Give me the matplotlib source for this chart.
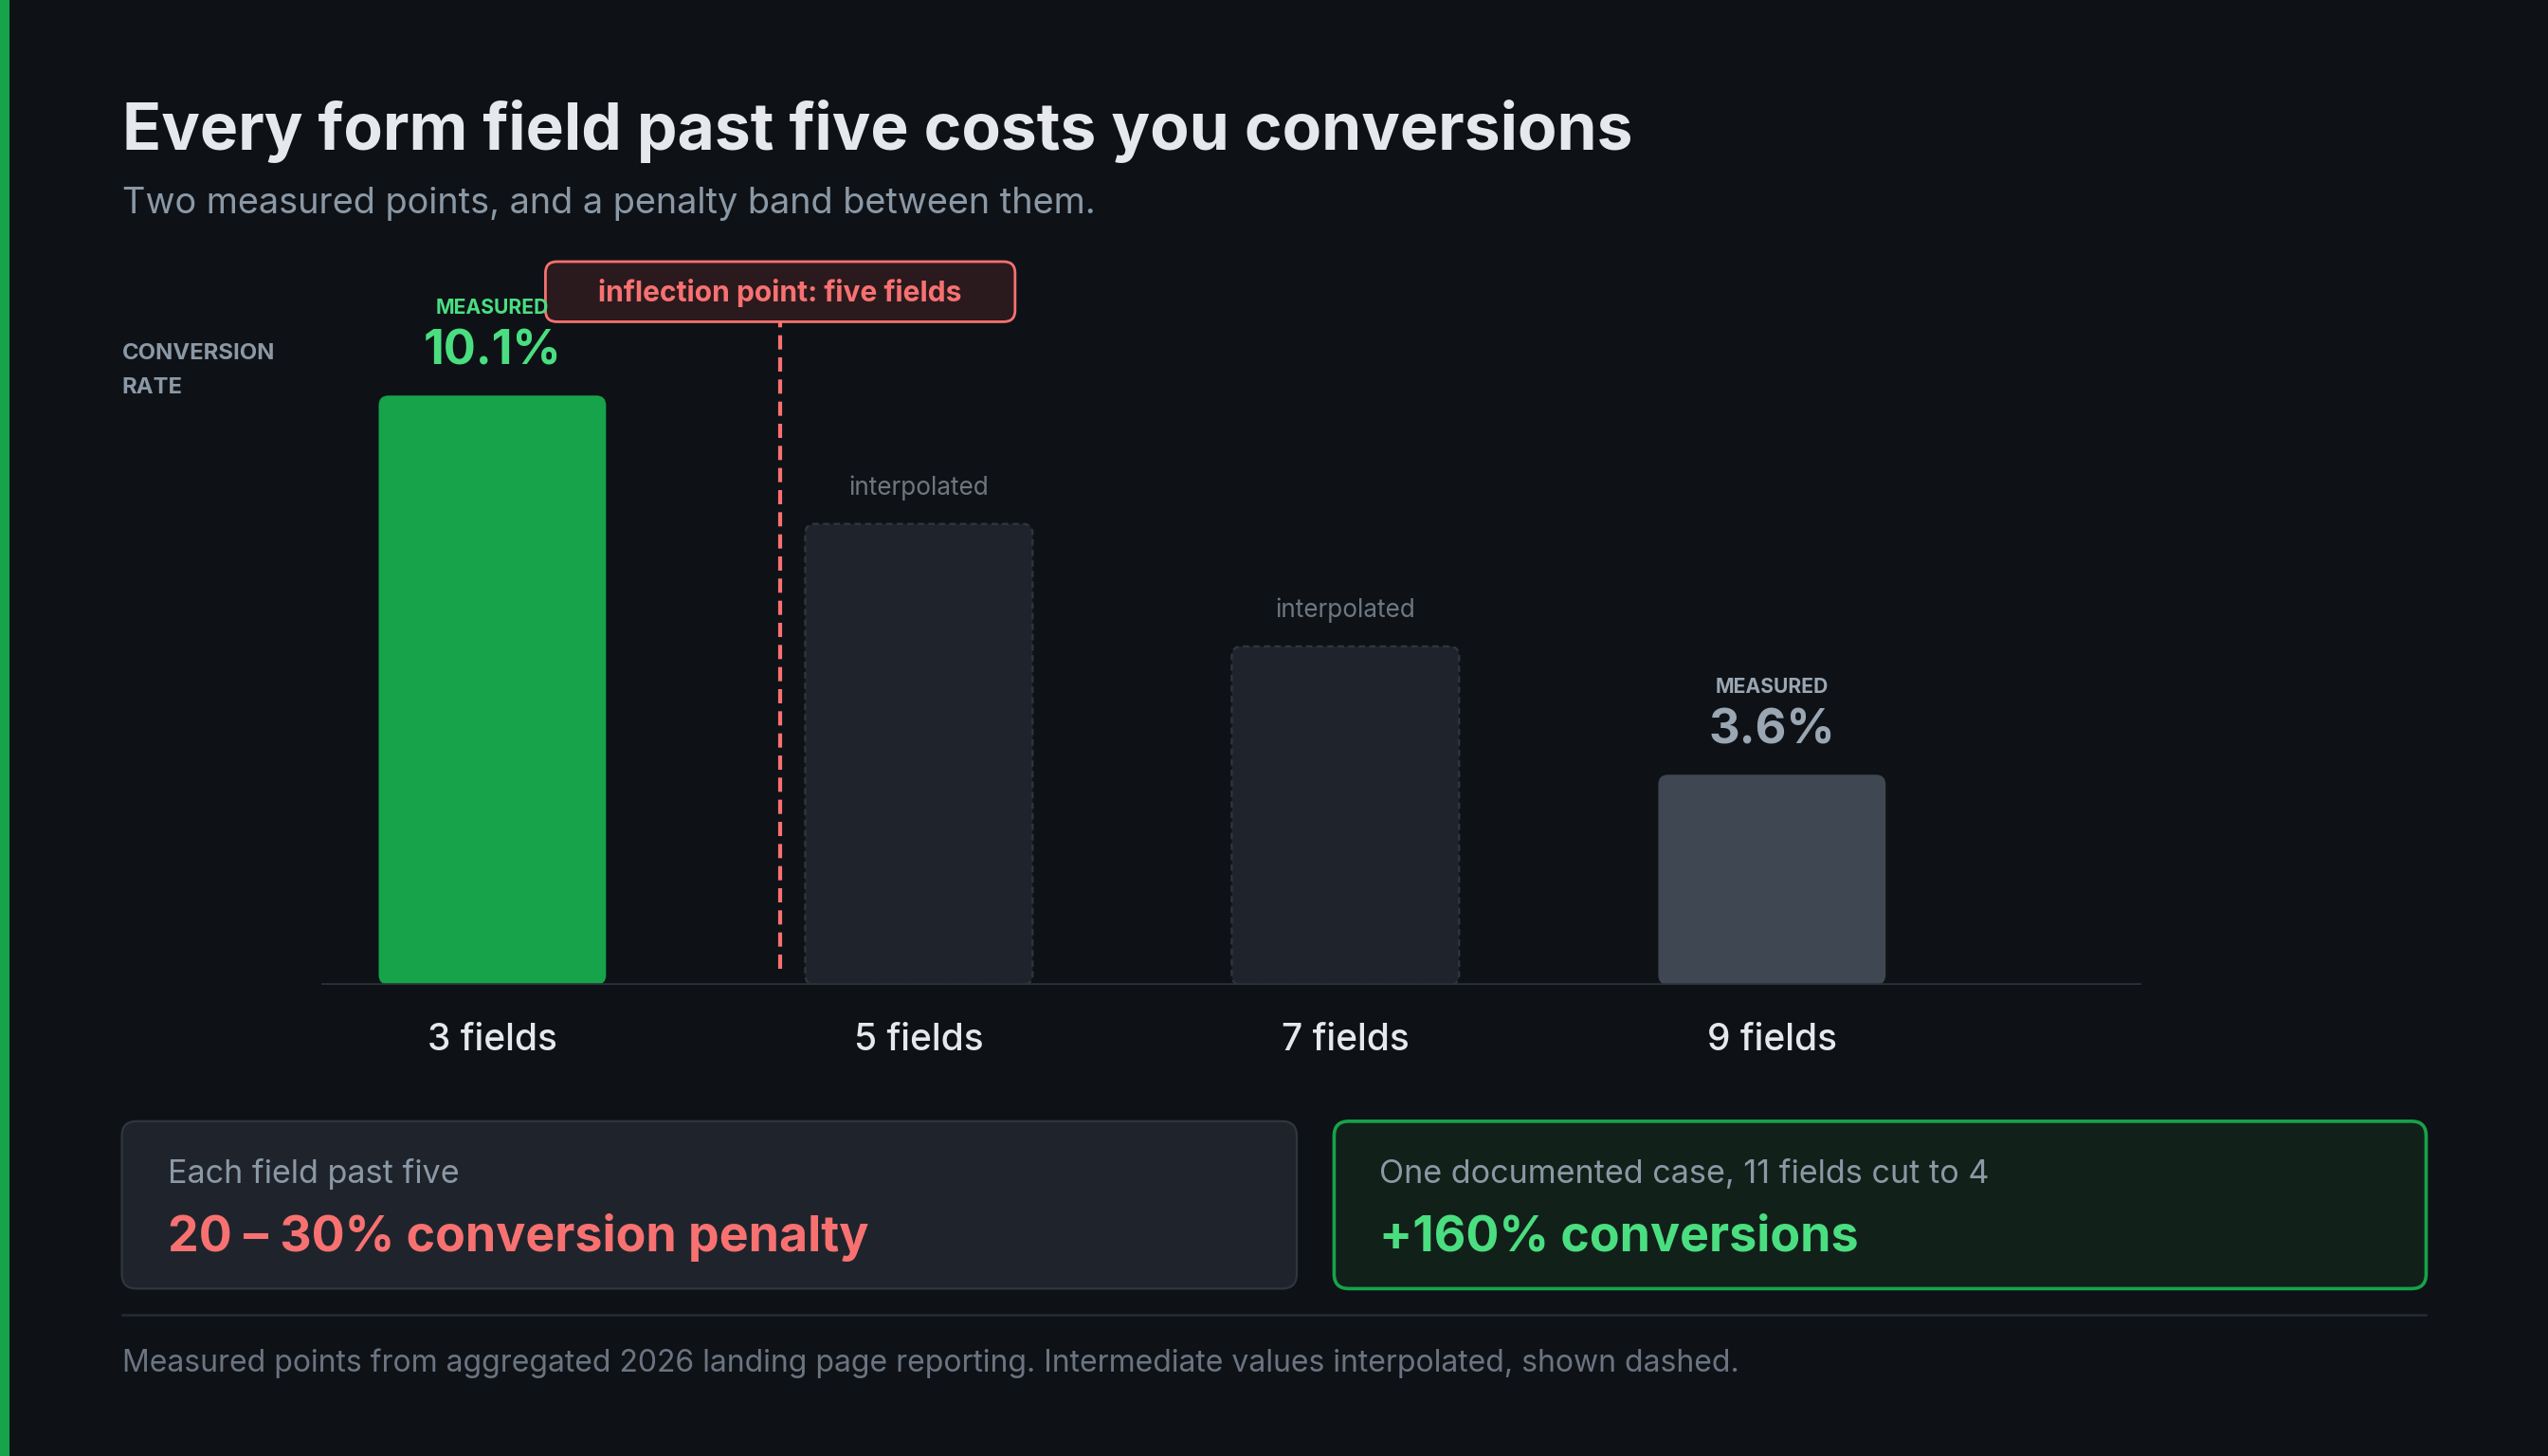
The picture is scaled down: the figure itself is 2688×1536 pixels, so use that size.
import matplotlib
matplotlib.use("Agg")
import matplotlib.pyplot as plt
from matplotlib.patches import FancyBboxPatch, Rectangle
import numpy as np

# data
categories = ["3 fields", "5 fields", "7 fields", "9 fields"]
rates = [10.1, 7.9, 5.8, 3.6]
measured = [True, False, False, True]
inflection_x = 0.675  # position of the "five fields" marker, in bar slots

title = "Every form field past five costs you conversions"
subtitle = "Two measured points, and a penalty band between them."
footer = ("Measured points from aggregated 2026 landing page reporting. "
          "Intermediate values interpolated, shown dashed.")
card_left = ("Each field past five", "20 \u2013 30% conversion penalty")
card_right = ("One documented case, 11 fields cut to 4", "+160% conversions")

BG = "#0e1217"
GREEN = "#16a34a"
GREEN_TXT = "#4ade80"
RED = "#f87171"
GRAY_BAR = "#3f4852"
INTERP_BAR = "#1f242c"
INTERP_EDGE = "#30363d"
MUTED = "#8b98a5"
FAINT = "#6b7480"
WHITE = "#e6e8eb"

plt.rcParams["font.family"] = ["Inter", "DejaVu Sans"]

W, H = 1568, 896  # layout units (scaled to the 2688x1536 output)
fig = plt.figure(figsize=(13.44, 7.68), dpi=200, facecolor=BG)

# full-figure overlay in layout units
bg = fig.add_axes([0, 0, 1, 1], zorder=0)
bg.set_xlim(0, W)
bg.set_ylim(H, 0)
bg.axis("off")
bg.add_patch(Rectangle((0, 0), 6, H, color=GREEN, lw=0))

bg.text(75, 92, title, fontsize=24.4, fontweight="bold", color=WHITE, va="baseline")
bg.text(75, 131, subtitle, fontsize=13.65, color=MUTED, va="baseline")
bg.text(75, 221, "CONVERSION", fontsize=8.6, fontweight="bold", color=MUTED, va="baseline")
bg.text(75, 242, "RATE", fontsize=8.6, fontweight="bold", color=MUTED, va="baseline")

# chart axes
px_per_unit = 35.9
base_y, top_y = 606, 170
ax = fig.add_axes([198 / W, 1 - base_y / H, (1318 - 198) / W, (base_y - top_y) / H], zorder=1)
ax.set_facecolor("none")
ax.set_xlim(-0.4, 3.867)
ax.set_ylim(0, (base_y - top_y) / px_per_unit)
for s in ax.spines.values():
    s.set_visible(False)
ax.set_yticks([])
x = np.arange(len(categories))
ax.set_xticks(x, categories)
ax.tick_params(axis="x", length=0, pad=14.5, labelsize=14, labelcolor=WHITE)
for lab in ax.get_xticklabels():
    lab.set_fontweight("medium")

bars = ax.bar(x, rates, width=0.533)
fig.canvas.draw()
p0 = ax.transData.transform((0, 0))
p1 = ax.transData.transform((1, 1))
aspect = (p1[0] - p0[0]) / (p1[1] - p0[1])
radius = 6 / 262.5

for i, r in enumerate(bars.patches):
    bx, by, bw, bh = r.get_x(), r.get_y(), r.get_width(), r.get_height()
    r.remove()
    if measured[i]:
        fc = GREEN if i == 0 else GRAY_BAR
        patch = FancyBboxPatch((bx, by), bw, bh, boxstyle=f"round,pad=0,rounding_size={radius}",
                               mutation_aspect=aspect, fc=fc, ec="none", zorder=2)
    else:
        patch = FancyBboxPatch((bx, by), bw, bh, boxstyle=f"round,pad=0,rounding_size={radius}",
                               mutation_aspect=aspect, fc=INTERP_BAR, ec=INTERP_EDGE,
                               lw=0.8, ls=(0, (3, 2)), zorder=2)
    ax.add_patch(patch)

    if measured[i]:
        c = GREEN_TXT if i == 0 else "#9aa6b2"
        ax.annotate("MEASURED", (x[i], rates[i]), xytext=(0, 33.3), textcoords="offset points",
                    ha="center", va="center", fontsize=7.6, fontweight="bold", color=c, zorder=3)
        ax.annotate(f"{rates[i]}%", (x[i], rates[i]), xytext=(0, 16.8), textcoords="offset points",
                    ha="center", va="center", fontsize=18.2, fontweight="bold", color=c, zorder=3)
    else:
        ax.annotate("interpolated", (x[i], rates[i]), xytext=(0, 13.6), textcoords="offset points",
                    ha="center", va="center", fontsize=9.4, color="#6e7781", zorder=3)

ax.axhline(0, color="#2d3239", lw=1.3, zorder=4)

# inflection marker
y_lo = 10 / px_per_unit
y_hi = (base_y - 198) / px_per_unit
ax.plot([inflection_x, inflection_x], [y_lo, y_hi], color=RED, lw=1.5,
        dashes=(3.6, 2.0), zorder=3)
cx, _ = bg.transData.inverted().transform(ax.transData.transform((inflection_x, 0)))
bg.add_patch(FancyBboxPatch((cx - 144.5, 161), 289, 37, boxstyle="round,pad=0,rounding_size=7",
                            fc="#2b1a1d", ec=RED, lw=1.0, zorder=5))
ax.text(inflection_x, (base_y - 180) / px_per_unit, "inflection point: five fields",
        ha="center", va="center", fontsize=10.8, fontweight="bold", color=RED, zorder=6,
        clip_on=False)

# cards
bg.add_patch(FancyBboxPatch((75, 690), 723, 103, boxstyle="round,pad=0,rounding_size=9",
                            fc="#1f242c", ec="#30363d", lw=0.8))
bg.add_patch(FancyBboxPatch((821, 690), 672, 103, boxstyle="round,pad=0,rounding_size=9",
                            fc="#12201a", ec=GREEN, lw=1.3))
bg.text(103, 728, card_left[0], fontsize=12.3, color=MUTED, va="baseline")
bg.text(103, 770, card_left[1], fontsize=18.7, fontweight="bold", color=RED, va="baseline")
bg.text(849, 728, card_right[0], fontsize=12.3, color=MUTED, va="baseline")
bg.text(849, 770, card_right[1], fontsize=18.7, fontweight="bold", color=GREEN_TXT, va="baseline")

bg.plot([75, 1493], [809, 809], color="#262b33", lw=0.9)
bg.text(75, 844, footer, fontsize=11.5, color=FAINT, va="baseline")

fig.savefig("out.png", dpi=200, facecolor=BG)
